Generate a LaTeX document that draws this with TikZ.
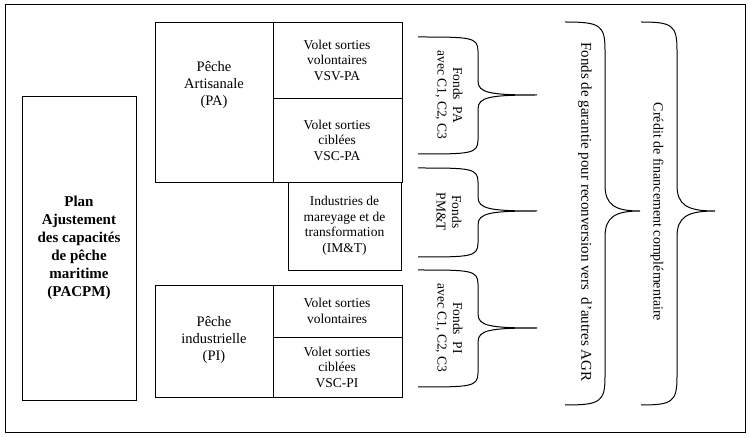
\documentclass[tikz,border=0pt]{standalone}
\usepackage{fontspec}
\setmainfont{Liberation Serif}
\begin{document}
\begin{tikzpicture}[x=1pt,y=-1pt,
  box/.style={draw,line width=0.9pt},
  t/.style={align=center,font=\fontsize{13.5}{15.5}\selectfont},
  br/.style={line width=1pt}]
\useasboundingbox (0,0) rectangle (750,438);
\draw[line width=1pt] (5,5) rectangle (745,432);
\node[box,minimum width=114pt,minimum height=304pt,align=center,font=\fontsize{15}{18}\selectfont\bfseries] (plan) at (79,248) {Plan\\Ajustement\\des capacités\\de pêche\\maritime\\(PACPM)};
% PA
\draw[box] (155,22) rectangle (402,182);
\draw[box] (273,22) -- (273,182) (273,98) -- (402,98);
\node[t,font=\fontsize{14.5}{17}\selectfont] (pa) at (214,85) {Pêche\\Artisanale\\(PA)};
\node[t] (vsvpa) at (337,60) {Volet sorties\\volontaires\\VSV-PA};
\node[t] (vscpa) at (337,140) {Volet sorties\\ciblées\\VSC-PA};
% IMT
\node[box,minimum width=113pt,minimum height=88pt,t] (imt) at (344.5,226) {Industries de\\mareyage et de\\transformation\\(IM\&T)};
% PI
\draw[box] (155,285) rectangle (402,397);
\draw[box] (273,285) -- (273,397) (273,337) -- (402,337);
\node[t,font=\fontsize{14.5}{17}\selectfont] (pi) at (214,340) {Pêche\\industrielle\\(PI)};
\node[t] (vsvpi) at (337,311) {Volet sorties\\volontaires};
\node[t] (vscpi) at (337,367) {Volet sorties\\ciblées\\VSC-PI};
% small braces
\foreach \a/\b/\m/\n in {37/154/95/bpa,168/257/211/bpm,270/387/328/bpi}{
  \draw[br] (418,\a) .. controls (470,\a) and (478,\a) .. (478,\a+14)
    -- (478,\m-14) .. controls (478,\m-2) and (490,\m) .. (537,\m)
    (478,\b-14) -- (478,\m+14) .. controls (478,\m+2) and (490,\m) .. (537,\m)
    (418,\b) .. controls (470,\b) and (478,\b) .. (478,\b-14);
  \coordinate (\n) at (537,\m);
}
\node[t,rotate=-90] (fpa) at (449,95) {Fonds\ \ PA\\avec C1, C2, C3};
\node[t,rotate=-90] (fpm) at (449,212) {Fonds\\PM\&T};
\node[t,rotate=-90] (fpi) at (449,328) {Fonds\ \ PI\\avec C1, C2, C3};
% big braces
\foreach \x/\v/\tip/\n in {565/605/640/bg1,641/677/715/bg2}{
  \draw[br] (\x,22) .. controls (\v-5,22) and (\v,25) .. (\v,50)
    -- (\v,185) .. controls (\v,205) and (\v+10,211) .. (\tip,211)
    (\x,405) .. controls (\v-5,405) and (\v,402) .. (\v,377)
    -- (\v,237) .. controls (\v,217) and (\v+10,211) .. (\tip,211);
  \coordinate (\n) at (\tip,211);
}
\node[t,rotate=-90,font=\fontsize{15}{17}\selectfont] (fg) at (585,212) {Fonds de garantie pour reconversion vers\ \ d'autres AGR};
\node[t,rotate=-90,font=\fontsize{14}{17}\selectfont] (cf) at (657,212) {Crédit de financement complémentaire};
\end{tikzpicture}
\end{document}
